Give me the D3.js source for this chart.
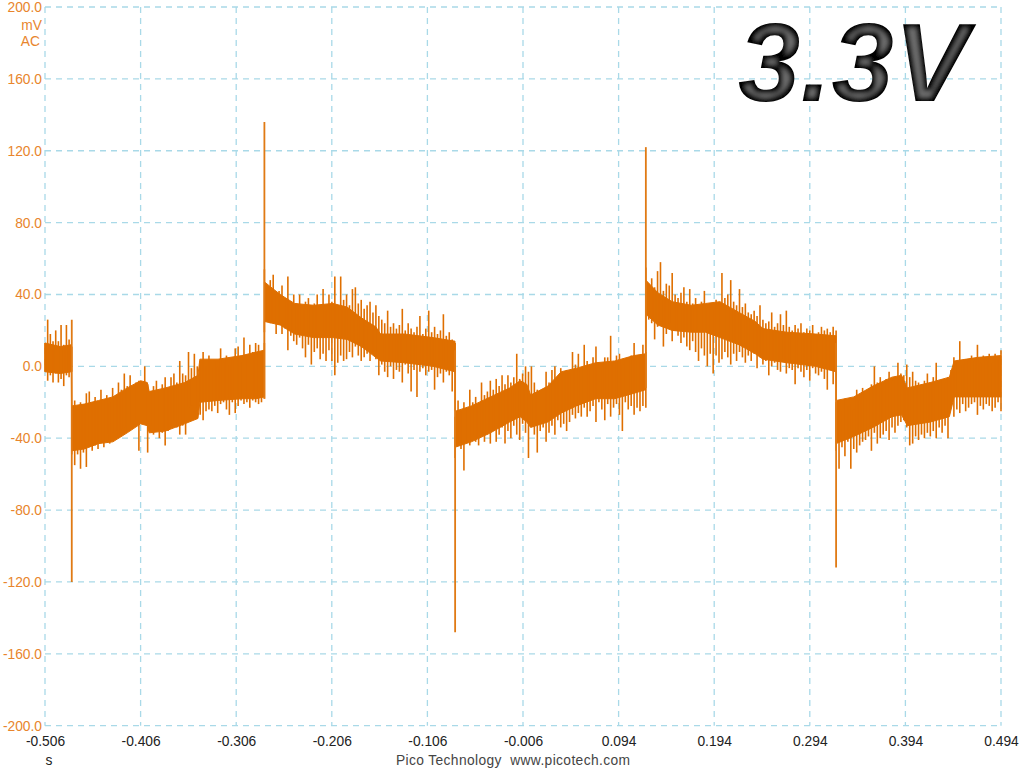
<!DOCTYPE html>
<html><head><meta charset="utf-8">
<style>html,body{margin:0;padding:0;background:#fff;overflow:hidden}svg{display:block}text{font-family:"Liberation Sans",Arial,sans-serif}</style>
<script src="https://cdn.jsdelivr.net/npm/d3@7/dist/d3.min.js"></script>
</head><body><svg id="c" width="1024" height="768"></svg>
<script>
const xTicks=[-0.506,-0.406,-0.306,-0.206,-0.106,-0.006,0.094,0.194,0.294,0.394,0.494];
const yTicks=[200,160,120,80,40,0,-40,-80,-120,-160,-200];
const title="3.3V";
const yUnit="mV";
const yMode="AC";
const xUnit="s";
const credit="Pico Technology  www.picotech.com";

// segment boundaries (seconds): steps in the waveform
const segmentEdges=[-0.506,-0.478,-0.2765,-0.077,0.1225,0.3215,0.494];

// per-column upper/lower extents of the trace (mV)
const seg1Hi=[13,26,18,14,20,14,23,12,23,15,11];
const seg1Lo=[-3,-8,-5,-9,-4,-9,-7,-11,-5,-6,-3];
const seg2Hi=[-24,-19,-24,-20,-22,-15,-14,-21,-17,-22,-13,-19,-16,-20,-12,-16,-9,-13,-4,-11,-5,-12,-9,-8,-13,0,-10,-14,-11,-8,-14,-10,-6,-13,-6,-4,-9,3,-4,-5,8,-1,7,0,3,8,0,6,-1,3,0,10,2,6,1,4,10,11,2,16,4,12,8,13,12,6,13];
const seg2Lo=[-49,-55,-49,-57,-48,-56,-45,-47,-44,-46,-42,-45,-38,-43,-37,-36,-40,-35,-34,-36,-32,-33,-30,-47,-32,-31,-48,-33,-38,-36,-40,-37,-44,-36,-33,-30,-34,-38,-33,-38,-23,-22,-25,-23,-27,-30,-25,-24,-25,-22,-26,-21,-20,-24,-27,-20,-26,-22,-19,-21,-20,-23,-19,-20,-21,-20,-18];
const seg3Hi=[54,44,48,51,40,42,45,38,50,36,40,35,40,33,36,38,33,35,40,32,43,31,40,36,50,34,50,37,40,34,43,44,35,37,32,34,36,30,34,28,26,24,31,22,24,21,23,32,20,24,21,19,22,28,18,21,31,19,22,18,20,29,17,19,15,13];
const seg3Lo=[19,26,24,25,18,23,18,21,9,17,14,12,16,10,5,12,1,8,10,4,7,3,9,3,-5,2,6,3,4,8,5,11,6,3,5,7,3,8,4,-5,1,-3,-6,0,-7,-2,-3,-9,1,-4,-14,-2,-17,-3,-1,-5,-3,-2,-13,-6,-4,-9,-3,-5,-14,-4];
const seg4Hi=[-28,-19,-25,-20,-23,-13,-20,-17,-21,-9,-16,-14,-8,-13,-7,-11,-5,-10,-5,-9,-6,7,-7,-4,0,-3,0,-9,-13,-14,-16,-3,-9,-2,0,-6,-1,-4,-2,-4,8,1,7,-1,12,3,-1,5,11,2,0,5,5,17,3,6,7,1,4,5,6,13,3,6,12,8];
const seg4Lo=[-51,-43,-46,-58,-42,-44,-38,-42,-44,-37,-42,-38,-43,-36,-42,-38,-34,-43,-36,-40,-33,-38,-41,-32,-37,-51,-33,-38,-48,-36,-34,-42,-37,-33,-38,-30,-34,-32,-36,-31,-27,-29,-26,-28,-23,-28,-25,-22,-31,-20,-24,-30,-21,-28,-23,-21,-27,-36,-20,-24,-22,-27,-23,-25,-22,-23];
const seg5Hi=[55,46,49,44,53,58,42,46,45,52,40,38,41,44,36,43,35,38,33,36,42,33,35,31,37,34,52,38,40,48,36,34,43,33,35,30,29,31,28,34,26,24,25,30,22,24,29,23,31,22,20,23,21,24,19,21,20,23,18,19,22,20,21,19,22,20];
const seg5Lo=[20,26,24,15,22,25,11,18,24,14,20,17,13,16,11,9,14,8,3,10,6,0,7,-4,6,2,4,8,5,1,7,3,8,5,2,6,3,7,-1,5,1,3,-5,0,2,-2,-3,4,-4,-1,-2,-10,-1,-3,-6,-2,-8,-1,-4,-5,-3,-7,-13,-2,-10,-3];
const seg6Hi=[-20,-19,-25,-18,-22,-21,-24,-13,-19,-12,-18,-14,-10,0,-9,-6,-10,-7,-3,-8,-6,2,-4,-5,1,-6,-3,-8,-9,-10,-8,-4,-9,-6,2,-8,-7,-9,-6,-2,5,2,14,1,4,3,6,3,12,2,6,3,7,2,7,4,9];
const seg6Lo=[-47,-57,-45,-50,-42,-57,-46,-48,-44,-42,-41,-39,-47,-37,-43,-40,-38,-36,-41,-34,-37,-33,-31,-30,-34,-44,-43,-39,-41,-38,-40,-37,-39,-36,-40,-34,-37,-33,-40,-22,-28,-24,-26,-21,-25,-23,-21,-20,-27,-22,-24,-21,-22,-25,-23,-20,-25];

// solid core of the noise band
const coreT =[-0.506,-0.49,-0.4785,-0.4779,-0.465,-0.45,-0.435,-0.42,-0.406,-0.399,-0.397,-0.38,-0.36,-0.346,-0.344,-0.325,-0.30,-0.285,-0.2766,-0.2765,-0.26,-0.245,-0.225,-0.205,-0.19,-0.175,-0.16,-0.155,-0.13,-0.10,-0.0771,-0.077,-0.06,-0.04,-0.02,-0.009,-0.002,0.002,0.02,0.034,0.05,0.07,0.09,0.11,0.1224,0.1225,0.135,0.15,0.17,0.185,0.20,0.22,0.237,0.245,0.27,0.30,0.3214,0.3215,0.34,0.36,0.38,0.39,0.396,0.42,0.44,0.445,0.47,0.494];
const coreHi=[13,11,12,-22,-21,-19,-17,-12,-8,-9,-14,-12,-9,-5,4,4,6,8,9,47,40,35,34,35,33,27,22,18,18,16,14,-25,-22,-17,-12,-8,-10,-16,-11,-3,-1,2,3,6,7,48,41,36,34,35,36,30,25,21,19,18,17,-19,-17,-11,-6,-5,-12,-9,-6,3,5,6];
const coreLo=[-3,-4,-3,-47,-46,-43,-42,-37,-32,-33,-37,-36,-32,-29,-20,-19,-18,-18,-17,25,23,18,16,16,15,11,5,3,2,0,-3,-45,-42,-37,-31,-28,-31,-34,-31,-26,-22,-18,-18,-15,-13,29,23,20,19,19,16,12,7,4,2,0,-3,-43,-39,-34,-28,-27,-33,-31,-28,-17,-17,-17];

// the five tall step transients
const spikeT=[-0.478,-0.2765,-0.077,0.1225,0.3215];
const spikeFrom=[26,-18,9,-12,13];
const spikeTo=[-120,136,-148,122,-112];

const X=d3.scaleLinear().domain([-0.506,0.494]).range([45,1001]);
const Y=d3.scaleLinear().domain([-200,200]).range([725.7,7]);
const svg=d3.select("#c");
const grid="#a9d9e8", orange="#df6f00", lab="#e8852c";
const hy=f=>v=>f(v).replace("\u2212","-");

const g=svg.append("g").attr("stroke",grid).attr("stroke-width",1.3).attr("stroke-dasharray","6 5").attr("fill","none");
g.selectAll("line.v").data(xTicks).join("line").attr("x1",d=>X(d)).attr("x2",d=>X(d)).attr("y1",Y(200)).attr("y2",Y(-200));
g.selectAll("line.h").data(yTicks).join("line").attr("y1",d=>Y(d)).attr("y2",d=>Y(d)).attr("x1",X(-0.506)).attr("x2",X(0.494));

const yAxis=d3.axisLeft(Y).tickValues(yTicks).tickSize(0).tickPadding(3).tickFormat(hy(d3.format(".1f")));
svg.append("g").attr("transform",`translate(${X(-0.506)},0)`).call(yAxis)
 .call(s=>s.select(".domain").remove())
 .call(s=>s.selectAll("text").attr("fill",lab).attr("font-size",13.8).style("font-family",'"Liberation Sans"'));
const xAxis=d3.axisBottom(X).tickValues(xTicks).tickSize(0).tickPadding(6).tickFormat(hy(d3.format(".3f")));
svg.append("g").attr("transform",`translate(0,${Y(-200)+5})`).call(xAxis)
 .call(s=>s.select(".domain").remove())
 .call(s=>s.selectAll("text").attr("fill","#222").attr("font-size",13.8).style("font-family",'"Liberation Sans"'));

svg.append("text").attr("x",42).attr("y",30).attr("text-anchor","end").attr("fill",lab).attr("font-size",13.8).text(yUnit);
svg.append("text").attr("x",40).attr("y",46).attr("text-anchor","end").attr("fill",lab).attr("font-size",13.8).text(yMode);
svg.append("text").attr("x",49).attr("y",765).attr("text-anchor","middle").attr("fill","#222").attr("font-size",13.8).text(xUnit);
svg.append("text").attr("x",396).attr("y",765).attr("fill","#444").attr("font-size",13.8).attr("textLength",234).style("white-space","pre").text(credit);

// trace
const hiSets=[seg1Hi,seg2Hi,seg3Hi,seg4Hi,seg5Hi,seg6Hi];
const loSets=[seg1Lo,seg2Lo,seg3Lo,seg4Lo,seg5Lo,seg6Lo];
const columns=[];
hiSets.forEach((hi,k)=>{
  const idx=d3.scaleLinear().domain([0,hi.length-1]).range([segmentEdges[k],segmentEdges[k+1]]);
  hi.forEach((v,i)=>columns.push({t:idx(i),hi:v,lo:loSets[k][i]}));
});
svg.append("path").datum(coreT.map((t,i)=>({t,hi:coreHi[i],lo:coreLo[i]})))
 .attr("fill",orange).attr("stroke",orange).attr("stroke-width",1)
 .attr("d",d3.area().x(d=>X(d.t)).y0(d=>Y(d.lo)).y1(d=>Y(d.hi)));
svg.append("g").attr("stroke",orange).attr("stroke-width",1.6).selectAll("line").data(columns).join("line")
 .attr("x1",d=>X(d.t)).attr("x2",d=>X(d.t)).attr("y1",d=>Y(d.lo)).attr("y2",d=>Y(d.hi));
svg.append("g").attr("stroke","#e07a14").attr("stroke-width",1.8).selectAll("line").data(spikeT).join("line")
 .attr("x1",d=>X(d)).attr("x2",d=>X(d)).attr("y1",(d,i)=>Y(spikeFrom[i])).attr("y2",(d,i)=>Y(spikeTo[i]));

// bevelled title
const defs=svg.append("defs");
const f=defs.append("filter").attr("id","bevel").attr("x","-5%").attr("y","-5%").attr("width","110%").attr("height","110%");
f.append("feMorphology").attr("in","SourceAlpha").attr("operator","erode").attr("radius",3.6).attr("result","er");
f.append("feGaussianBlur").attr("in","er").attr("stdDeviation",2).attr("result","bl");
f.append("feFlood").attr("flood-color","#6e6e6e").attr("result","fl");
f.append("feComposite").attr("in","fl").attr("in2","bl").attr("operator","in").attr("result","hl");
const m=f.append("feMerge");
m.append("feMergeNode").attr("in","SourceGraphic");
m.append("feMergeNode").attr("in","hl");
svg.append("text").attr("x",738).attr("y",101).attr("font-size",112).attr("font-weight","bold").attr("font-style","italic")
 .attr("fill","#030303").attr("filter","url(#bevel)").text(title);
</script></body></html>
